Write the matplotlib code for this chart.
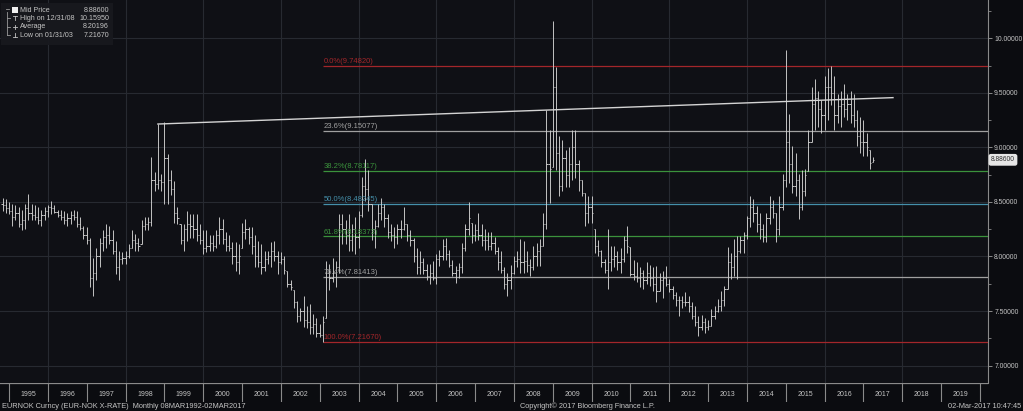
import matplotlib
matplotlib.use('Agg')
import matplotlib.pyplot as plt
from matplotlib import font_manager
from matplotlib.patches import Rectangle
import numpy as np
import pandas as pd

names = {f.name for f in font_manager.fontManager.ttflist}
FONT = 'Liberation Sans Narrow' if 'Liberation Sans Narrow' in names else 'Liberation Sans'
plt.rcParams['font.family'] = [FONT, 'DejaVu Sans']

# ---------------- data (monthly bars, Oct 1994 .. Mar 2017) ----------------
first_month = '1994-10'
last_month = '2017-03'
first_open = 8.48
highs = [
    8.54, 8.53, 8.50,
    8.48, 8.47, 8.45, 8.43, 8.48, 8.57, 8.48, 8.47, 8.45, 8.43, 8.45, 8.47,
    8.51, 8.47, 8.43, 8.43, 8.42, 8.40, 8.42, 8.43, 8.42, 8.36, 8.28, 8.27,
    8.17, 7.99, 8.08, 8.17, 8.24, 8.30, 8.28, 8.24, 8.14, 8.05, 8.04, 8.05,
    8.11, 8.24, 8.21, 8.17, 8.33, 8.36, 8.36, 8.91, 8.77, 9.21, 8.76, 9.23,
    8.94, 8.79, 8.69, 8.45, 8.30, 8.30, 8.42, 8.39, 8.39, 8.39, 8.30, 8.24,
    8.24, 8.20, 8.20, 8.24, 8.36, 8.34, 8.22, 8.20, 8.13, 8.13, 8.11, 8.31,
    8.34, 8.27, 8.27, 8.20, 8.14, 8.11, 8.05, 8.05, 8.13, 8.14, 8.05, 8.04,
    8.00, 7.87, 7.78, 7.69, 7.59, 7.53, 7.64, 7.55, 7.56, 7.47, 7.44, 7.38,
    7.45, 7.96, 7.93, 7.99, 7.96, 8.39, 8.39, 8.33, 8.39, 8.30, 8.36, 8.42,
    8.73, 8.89, 8.79, 8.48, 8.33, 8.48, 8.54, 8.48, 8.39, 8.30, 8.27, 8.30,
    8.33, 8.45, 8.30, 8.24, 8.17, 8.08, 8.05, 7.99, 7.93, 7.93, 7.96, 8.02,
    8.06, 8.16, 8.17, 8.06, 7.97, 7.91, 7.94, 8.12, 8.30, 8.50, 8.31, 8.30,
    8.40, 8.30, 8.25, 8.22, 8.22, 8.18, 8.09, 8.05, 7.90, 7.85, 7.92, 8.00,
    8.05, 8.16, 8.14, 8.05, 7.98, 8.10, 8.12, 8.16, 8.40, 9.34, 9.16, 10.1595,
    9.74, 9.10, 9.07, 8.98, 9.00, 9.16, 9.16, 8.88, 8.70, 8.58, 8.55, 8.55,
    8.25, 8.15, 8.06, 7.98, 8.25, 8.10, 8.10, 8.05, 8.08, 8.19, 8.28, 8.09,
    7.97, 7.95, 7.90, 7.88, 7.95, 7.92, 7.90, 7.91, 7.85, 7.87, 7.91, 7.79,
    7.73, 7.67, 7.64, 7.64, 7.67, 7.64, 7.58, 7.55, 7.45, 7.46, 7.44, 7.42,
    7.52, 7.55, 7.61, 7.68, 7.73, 8.09, 8.03, 8.16, 8.19, 8.19, 8.22, 8.37,
    8.55, 8.53, 8.46, 8.40, 8.30, 8.40, 8.55, 8.52, 8.40, 8.55, 8.76, 9.89,
    9.31, 9.01, 8.95, 8.76, 8.79, 8.80, 9.16, 9.55, 9.63, 9.52, 9.43, 9.65,
    9.73, 9.7482, 9.65, 9.49, 9.52, 9.58, 9.49, 9.52, 9.49, 9.34, 9.28, 9.25,
    9.13, 8.98, 8.91,
]
lows = [
    8.42, 8.40, 8.39,
    8.28, 8.33, 8.27, 8.24, 8.25, 8.33, 8.33, 8.33, 8.30, 8.28, 8.33, 8.36,
    8.39, 8.40, 8.36, 8.33, 8.30, 8.28, 8.30, 8.33, 8.27, 8.24, 8.16, 8.11,
    7.72, 7.64, 7.78, 7.90, 8.05, 8.08, 8.11, 8.02, 7.84, 7.78, 7.93, 7.93,
    7.99, 8.08, 8.05, 8.05, 8.11, 8.24, 8.24, 8.28, 8.60, 8.62, 8.60, 8.48,
    8.48, 8.56, 8.31, 8.30, 8.11, 8.05, 8.14, 8.17, 8.17, 8.14, 8.11, 8.02,
    8.04, 8.05, 8.05, 8.08, 8.11, 8.11, 8.05, 8.05, 7.93, 7.87, 7.84, 8.08,
    8.16, 8.11, 8.02, 7.90, 7.90, 7.84, 7.87, 7.93, 7.90, 7.96, 7.84, 7.93,
    7.84, 7.72, 7.69, 7.53, 7.40, 7.41, 7.35, 7.34, 7.29, 7.29, 7.26, 7.26,
    7.2167, 7.44, 7.69, 7.77, 7.72, 7.85, 8.11, 8.11, 8.05, 8.05, 8.02, 8.08,
    8.36, 8.51, 8.42, 8.15, 8.08, 8.27, 8.33, 8.27, 8.17, 8.14, 8.08, 8.11,
    8.17, 8.24, 8.14, 8.10, 7.95, 7.84, 7.84, 7.84, 7.78, 7.75, 7.78, 7.75,
    7.91, 7.97, 7.97, 7.90, 7.82, 7.76, 7.80, 7.85, 8.05, 8.20, 8.12, 8.14,
    8.15, 8.10, 8.06, 8.06, 8.06, 8.02, 7.88, 7.85, 7.70, 7.64, 7.70, 7.84,
    7.90, 7.85, 7.85, 7.86, 7.82, 7.88, 7.91, 7.91, 8.10, 8.25, 8.49, 8.82,
    8.79, 8.55, 8.60, 8.64, 8.64, 8.70, 8.72, 8.60, 8.55, 8.28, 8.31, 8.31,
    8.03, 8.00, 7.90, 7.85, 7.70, 7.87, 7.90, 7.88, 7.85, 7.95, 8.03, 7.82,
    7.78, 7.77, 7.72, 7.70, 7.75, 7.73, 7.68, 7.58, 7.68, 7.62, 7.73, 7.67,
    7.61, 7.55, 7.45, 7.53, 7.55, 7.49, 7.43, 7.36, 7.27, 7.33, 7.30, 7.33,
    7.36, 7.43, 7.49, 7.50, 7.55, 7.70, 7.79, 7.82, 7.79, 8.03, 8.03, 8.16,
    8.27, 8.32, 8.22, 8.16, 8.13, 8.13, 8.30, 8.35, 8.13, 8.20, 8.43, 8.64,
    8.67, 8.58, 8.55, 8.34, 8.43, 8.55, 8.78, 9.05, 9.16, 9.19, 9.13, 9.16,
    9.25, 9.39, 9.16, 9.22, 9.19, 9.28, 9.25, 9.22, 9.19, 9.01, 8.95, 8.92,
    8.92, 8.80, 8.87,
]
closes = [
    8.47, 8.44, 8.42,
    8.36, 8.40, 8.30, 8.33, 8.44, 8.40, 8.38, 8.36, 8.33, 8.38, 8.42, 8.45,
    8.44, 8.41, 8.38, 8.36, 8.33, 8.35, 8.38, 8.36, 8.30, 8.26, 8.20, 8.15,
    7.80, 7.85, 8.00, 8.12, 8.18, 8.20, 8.15, 8.05, 7.90, 7.98, 7.99, 8.00,
    8.08, 8.15, 8.12, 8.10, 8.28, 8.30, 8.32, 8.70, 8.66, 8.70, 8.68, 8.90,
    8.70, 8.62, 8.40, 8.35, 8.15, 8.25, 8.30, 8.28, 8.25, 8.20, 8.15, 8.08,
    8.10, 8.12, 8.10, 8.20, 8.25, 8.16, 8.10, 8.08, 8.00, 7.95, 8.00, 8.22,
    8.25, 8.18, 8.10, 8.00, 7.95, 7.90, 7.98, 8.00, 8.05, 8.00, 7.95, 7.98,
    7.88, 7.75, 7.72, 7.58, 7.45, 7.50, 7.42, 7.40, 7.35, 7.38, 7.30, 7.28,
    7.40, 7.85, 7.80, 7.85, 7.90, 8.30, 8.25, 8.20, 8.15, 8.25, 8.18, 8.38,
    8.65, 8.62, 8.48, 8.25, 8.28, 8.40, 8.45, 8.35, 8.22, 8.20, 8.18, 8.25,
    8.25, 8.30, 8.20, 8.15, 8.00, 7.90, 7.95, 7.88, 7.82, 7.85, 7.80, 7.98,
    8.00, 8.10, 8.02, 7.92, 7.85, 7.88, 7.90, 8.08, 8.25, 8.35, 8.20, 8.24,
    8.20, 8.15, 8.15, 8.10, 8.12, 8.05, 7.95, 7.88, 7.75, 7.78, 7.85, 7.96,
    7.98, 7.95, 7.96, 7.92, 7.90, 8.00, 8.05, 8.10, 8.30, 8.85, 8.80, 9.55,
    8.95, 8.65, 8.90, 8.75, 8.85, 9.00, 8.85, 8.70, 8.58, 8.40, 8.45, 8.40,
    8.10, 8.05, 7.95, 7.88, 7.95, 7.98, 8.00, 7.95, 7.98, 8.15, 8.10, 7.84,
    7.82, 7.80, 7.85, 7.78, 7.85, 7.80, 7.75, 7.68, 7.78, 7.80, 7.75, 7.70,
    7.65, 7.60, 7.60, 7.58, 7.58, 7.55, 7.45, 7.40, 7.35, 7.40, 7.35, 7.36,
    7.45, 7.50, 7.55, 7.60, 7.70, 7.95, 7.90, 8.00, 8.05, 8.15, 8.20, 8.35,
    8.45, 8.40, 8.30, 8.25, 8.18, 8.35, 8.45, 8.40, 8.25, 8.45, 8.70, 9.05,
    8.85, 8.65, 8.70, 8.45, 8.60, 8.75, 9.05, 9.40, 9.45, 9.35, 9.30, 9.55,
    9.55, 9.50, 9.30, 9.38, 9.40, 9.35, 9.40, 9.30, 9.25, 9.10, 9.05, 9.05,
    9.00, 8.86, 8.886,
]

fib_pcts = ['0.0%', '23.6%', '38.2%', '50.0%', '61.8%', '76.4%', '100.0%']
fib_levels = [9.74820, 9.15077, 8.78117, 8.48245, 8.18373, 7.81413, 7.21670]
fib_colors = ['#a3262a', '#a0a0a0', '#3b923c', '#4590ab', '#3b923c', '#a0a0a0', '#a3262a']
fib_start = 2003 + 1 / 12

trend_x = [1998 + 10 / 12, 2017.76]
trend_y = [9.214, 9.456]

year_labels = list(range(1995, 2020))
y_ticks = [7.0, 7.5, 8.0, 8.5, 9.0, 9.5, 10.0]
y_minor = [7.25, 7.75, 8.25, 8.75, 9.25, 9.75, 10.25]

legend_labels = ['Mid Price', 'High on 12/31/08', 'Average', 'Low on 01/31/03']
legend_values = ['8.88600', '10.15950', '8.20196', '7.21670']
last_price = 8.886

footer_left = 'EURNOK Curncy (EUR-NOK X-RATE)  Monthly 08MAR1992-02MAR2017'
footer_mid = 'Copyright\u00a9 2017 Bloomberg Finance L.P.'
footer_right = '02-Mar-2017 10:47:45'

# ---------------- style ----------------
W, H = 1023, 411
FIGBG = '#0b0c10'
AXBG = '#0f1015'
GRID = '#272a31'
BAR = '#cfcfcf'
TXT = '#c4c4c4'
SPINE = '#8a8a8a'

X0, X1 = 1994.768, 2020.206
Y0, Y1 = 6.840, 10.351

fig = plt.figure(figsize=(W / 100, H / 100), dpi=100, facecolor=FIGBG)
ax = fig.add_axes([0, (H - 383) / H, 988 / W, 383 / H])
ax.set_facecolor(AXBG)
ax.set_xlim(X0, X1)
ax.set_ylim(Y0, Y1)

for s in ['top', 'left', 'bottom']:
    ax.spines[s].set_visible(False)
ax.spines['right'].set_color(SPINE)
ax.spines['right'].set_linewidth(0.8)

ax.set_xticks(list(range(1996, 2020, 2)))
ax.tick_params(axis='x', length=0, labelbottom=False)
ax.yaxis.tick_right()
ax.set_yticks(y_ticks)
ax.set_yticklabels([f'{v:.5f}' for v in y_ticks])
ax.set_yticks(y_minor, minor=True)
ax.tick_params(axis='y', which='major', length=3.2, width=0.7, color=SPINE,
               labelsize=4.9, labelcolor=TXT, pad=1.2)
ax.tick_params(axis='y', which='minor', length=2, width=0.6, color=SPINE)
ax.grid(True, which='major', color=GRID, lw=0.8)
ax.set_axisbelow(True)

# monthly OHLC bars
months = pd.period_range(first_month, last_month, freq='M')
xm = np.asarray(months.year + months.month / 12.0, dtype=float)
hi = np.array(highs)
lo = np.array(lows)
cl = np.array(closes)
op = np.clip(np.r_[first_open, cl[:-1]], lo, hi)
tick = 0.032
ax.vlines(xm, lo, hi, color=BAR, lw=0.65, zorder=4)
ax.hlines(op, xm - tick, xm, color=BAR, lw=0.65, zorder=4)
ax.hlines(cl, xm, xm + tick, color=BAR, lw=0.65, zorder=4)

# fibonacci retracement
for pct, lvl, col in zip(fib_pcts, fib_levels, fib_colors):
    ax.hlines(lvl, fib_start, X1, color=col, lw=0.9, zorder=3)
    ax.text(fib_start + 0.02, lvl + 0.008, f'{pct}({lvl:.5f})', color=col,
            fontsize=5.5, ha='left', va='bottom', zorder=5)

# trend line
ax.plot(trend_x, trend_y, color='#d4d4d4', lw=1.0, zorder=5)

# last price marker
ax.text(1.003, last_price, f'{last_price:.5f}', transform=ax.get_yaxis_transform(),
        fontsize=4.9, color='#303030', ha='left', va='center', clip_on=False,
        bbox=dict(boxstyle='round,pad=0.25', fc='#e6e6e6', ec='#e6e6e6'))

# date band
bx = fig.add_axes([0, (H - 402) / H, 988 / W, 19 / H])
bx.set_xlim(X0, X1)
bx.set_ylim(0, 1)
bx.axis('off')
bx.axhline(1.0, color=SPINE, lw=0.9)
bx.vlines(list(range(1995, 2021)), 0, 1, color=SPINE, lw=0.8)
for yr in year_labels:
    bx.text(yr + 0.5, 0.38, str(yr), color=TXT, fontsize=5.0, ha='center', va='center')

# footer
fy = (H - 406) / H
fig.text(2 / W, fy, footer_left, color=TXT, fontsize=5.3, ha='left', va='center')
fig.text(520 / W, fy, footer_mid, color=TXT, fontsize=5.3, ha='left', va='center')
fig.text(1021 / W, fy, footer_right, color=TXT, fontsize=5.3, ha='right', va='center')

# legend box (pixel coordinates)
def fx(px):
    return px / W

def fyp(py):
    return (H - py) / H

fig.patches.append(Rectangle((fx(1), fyp(45)), 112 / W, 42 / H, transform=fig.transFigure,
                             facecolor='#18191e', edgecolor='none', alpha=0.95, zorder=10))
rows_y = [10, 18.5, 27, 35.5]
for lab, val, ry in zip(legend_labels, legend_values, rows_y):
    fig.text(fx(20), fyp(ry), lab, color=TXT, fontsize=5.1, ha='left', va='center', zorder=11)
    fig.text(fx(109), fyp(ry), val, color=TXT, fontsize=5.1, ha='right', va='center', zorder=11)
# tree connector and symbols
lc = '#9a9a9a'
fig.lines.append(plt.Line2D([fx(7), fx(7)], [fyp(12), fyp(35.5)], transform=fig.transFigure,
                            color=lc, lw=0.6, zorder=11))
for ry in rows_y[1:]:
    fig.lines.append(plt.Line2D([fx(7), fx(10)], [fyp(ry), fyp(ry)], transform=fig.transFigure,
                                color=lc, lw=0.6, zorder=11))
fig.patches.append(Rectangle((fx(11.5), fyp(13)), 6 / W, 6 / H, transform=fig.transFigure,
                             facecolor='#f0f0f0', edgecolor='none', zorder=11))
fig.lines.append(plt.Line2D([fx(5.5), fx(8.5)], [fyp(9), fyp(9)], transform=fig.transFigure,
                            color=lc, lw=0.6, zorder=11))
# T (high)
fig.lines.append(plt.Line2D([fx(13), fx(17)], [fyp(16.5), fyp(16.5)], transform=fig.transFigure, color=TXT, lw=0.6, zorder=11))
fig.lines.append(plt.Line2D([fx(15), fx(15)], [fyp(16.5), fyp(20.5)], transform=fig.transFigure, color=TXT, lw=0.6, zorder=11))
# + (average)
fig.lines.append(plt.Line2D([fx(13), fx(17)], [fyp(27), fyp(27)], transform=fig.transFigure, color=TXT, lw=0.6, zorder=11))
fig.lines.append(plt.Line2D([fx(15), fx(15)], [fyp(25), fyp(29)], transform=fig.transFigure, color=TXT, lw=0.6, zorder=11))
# ⊥ (low)
fig.lines.append(plt.Line2D([fx(13), fx(17)], [fyp(37.5), fyp(37.5)], transform=fig.transFigure, color=TXT, lw=0.6, zorder=11))
fig.lines.append(plt.Line2D([fx(15), fx(15)], [fyp(33.5), fyp(37.5)], transform=fig.transFigure, color=TXT, lw=0.6, zorder=11))

fig.savefig('out.png', dpi=100, facecolor=FIGBG)
